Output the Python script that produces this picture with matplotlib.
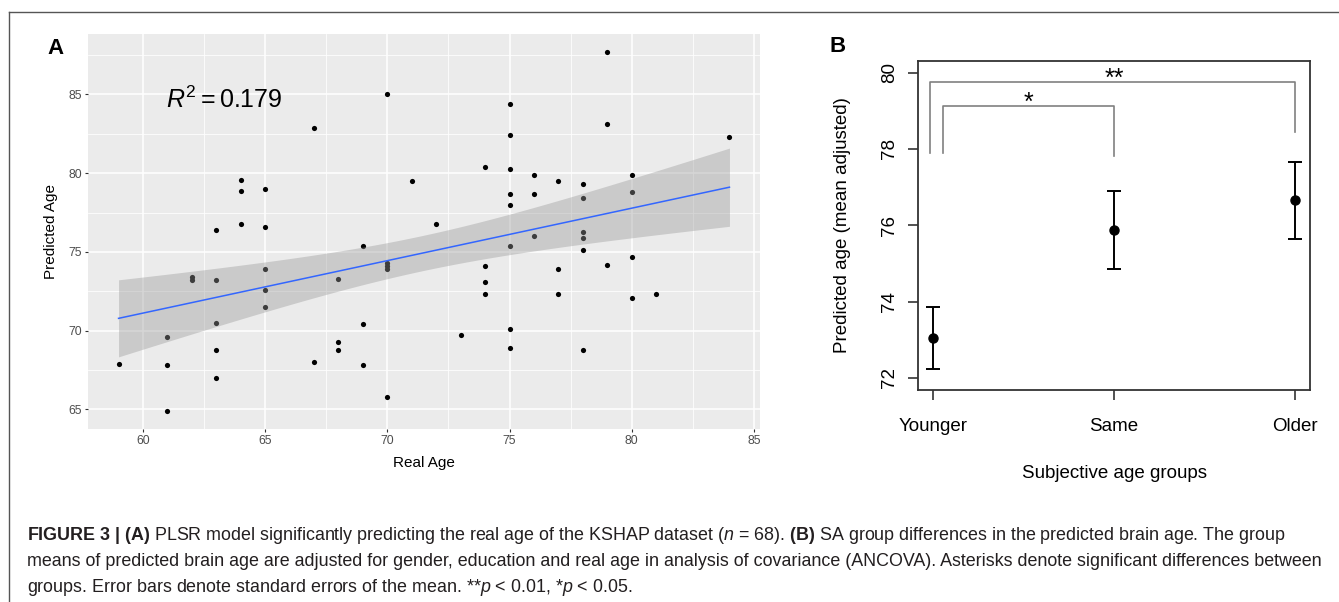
import numpy as np
import matplotlib
matplotlib.use("Agg")
import matplotlib.pyplot as plt
from matplotlib.lines import Line2D

plt.rcParams['font.family'] = ['Liberation Sans', 'DejaVu Sans']
plt.rcParams['mathtext.fontset'] = 'custom'
plt.rcParams['mathtext.rm'] = 'Liberation Sans'
plt.rcParams['mathtext.it'] = 'Liberation Sans:italic'
plt.rcParams['mathtext.bf'] = 'Liberation Sans:bold'

# panel A: real vs predicted age
real_age = [59,
            61, 61, 61,
            62, 62,
            63, 63, 63, 63, 63,
            64, 64, 64,
            65, 65, 65, 65, 65,
            67, 67,
            68, 68, 68,
            69, 69, 69,
            70, 70, 70, 70, 70,
            71, 72, 73,
            74, 74, 74, 74,
            75, 75, 75, 75, 75, 75, 75, 75,
            76, 76, 76,
            77, 77, 77,
            78, 78, 78, 78, 78, 78,
            79, 79, 79,
            80, 80, 80, 80,
            81, 84]
predicted_age = [67.9,
                 69.6, 67.8, 64.9,
                 73.4, 73.2,
                 76.4, 73.2, 70.5, 68.8, 67.0,
                 79.6, 78.9, 76.8,
                 79.0, 76.6, 73.9, 72.6, 71.5,
                 82.9, 68.0,
                 73.3, 69.3, 68.8,
                 75.4, 70.4, 67.8,
                 85.0, 74.3, 74.1, 73.9, 65.8,
                 79.5, 76.8, 69.7,
                 80.4, 74.1, 73.1, 72.3,
                 84.4, 82.4, 80.3, 78.7, 78.0, 75.4, 70.1, 68.9,
                 79.9, 78.7, 76.0,
                 79.5, 73.9, 72.3,
                 79.3, 78.4, 76.3, 75.9, 75.1, 68.8,
                 87.7, 83.1, 74.2,
                 79.9, 78.8, 74.7, 72.1,
                 72.3, 82.3]
x_ticks_a = [60, 65, 70, 75, 80, 85]
y_ticks_a = [65, 70, 75, 80, 85]

# panel B: adjusted group means and standard errors
groups = ['Younger', 'Same', 'Older']
group_means = [73.04, 75.87, 76.66]
group_se = [0.82, 1.02, 1.01]
y_ticks_b = [72, 74, 76, 78, 80]

W, H = 1339, 602
fig = plt.figure(figsize=(W / 100, H / 100), dpi=100)

# thin frame round the figure
fig.add_artist(Line2D([9 / W, 9 / W], [0, 1 - 12 / H], transform=fig.transFigure, color='#555555', lw=1.0))
fig.add_artist(Line2D([9 / W, 1], [1 - 12 / H, 1 - 12 / H], transform=fig.transFigure, color='#555555', lw=1.0))

# ---- panel A (ggplot look) ----
axA = fig.add_axes([88 / W, 1 - 429 / H, (760 - 88) / W, (429 - 34) / H])
axA.set_facecolor('#EBEBEB')
for s in axA.spines.values():
    s.set_visible(False)

xs = np.array(real_age, dtype=float)
ys = np.array(predicted_age)
n = len(xs)
b1, b0 = np.polyfit(xs, ys, 1)
xg = np.linspace(xs.min(), xs.max(), 100)
yhat = b0 + b1 * xg
resid = ys - (b0 + b1 * xs)
s_err = np.sqrt(np.sum(resid ** 2) / (n - 2))
sxx = np.sum((xs - xs.mean()) ** 2)
se_fit = s_err * np.sqrt(1 / n + (xg - xs.mean()) ** 2 / sxx)
t_crit = 1.997

axA.scatter(xs, ys, s=14, color='black', zorder=3, linewidths=0)
axA.fill_between(xg, yhat - t_crit * se_fit, yhat + t_crit * se_fit, color='#999999', alpha=0.4, lw=0, zorder=4)
axA.plot(xg, yhat, color='#3366FF', lw=1.1, zorder=5)

axA.set_xticks(x_ticks_a)
axA.set_yticks(y_ticks_a)
axA.set_xticks([62.5, 67.5, 72.5, 77.5, 82.5], minor=True)
axA.set_yticks([67.5, 72.5, 77.5, 82.5, 87.5], minor=True)
axA.set_xlim(57.75, 85.25)
axA.set_ylim(63.76, 88.84)
axA.grid(which='major', color='white', lw=1.1, zorder=0)
axA.grid(which='minor', color='white', lw=0.55, zorder=0)
axA.set_axisbelow(True)
axA.tick_params(which='major', length=2.5, width=0.8, color='#333333', labelcolor='#4D4D4D', labelsize=8.8, pad=2)
axA.tick_params(which='minor', length=0)
axA.set_xlabel('Real Age', fontsize=11, labelpad=6)
axA.set_ylabel('Predicted Age', fontsize=11, labelpad=7)
axA.text(60.95, 84.68, r'$R^2 = 0.179$', fontsize=18, ha='left', va='center')

fig.text(55 / W, 1 - 48 / H, 'A', fontsize=16, fontweight='bold', ha='center', va='center')
fig.text(838 / W, 1 - 47 / H, 'B', fontsize=16, fontweight='bold', ha='center', va='center')

# ---- panel B (base R look) ----
axB = fig.add_axes([918.5 / W, 1 - 390 / H, 391 / W, 329.5 / H])
xpos = np.arange(1, len(groups) + 1)
axB.errorbar(xpos, group_means, yerr=group_se, fmt='o', color='black', ms=6.5,
             elinewidth=1.4, capsize=5, capthick=1.4)

bracket = '#808080'
axB.plot([0.985, 0.985, 3, 3], [77.89, 79.75, 79.75, 78.44], color=bracket, lw=1.2)
axB.plot([1.055, 1.055, 2, 2], [77.89, 79.13, 79.13, 77.82], color=bracket, lw=1.2)
axB.text(2.0, 79.85, '**', fontsize=18, ha='center', va='center')
axB.text(1.53, 79.2, '*', fontsize=18, ha='center', va='center')

axB.set_xlim(0.92, 3.08)
axB.set_ylim(71.68, 80.32)
axB.set_xticks(xpos)
axB.set_xticklabels(groups)
axB.set_yticks(y_ticks_b)
for s in ['top', 'right', 'bottom', 'left']:
    axB.spines[s].set_linewidth(1.3)
    axB.spines[s].set_color('#333333')
axB.tick_params(length=7, width=1.2, color='#333333', labelsize=13.5, pad=8)
axB.tick_params(axis='x', pad=13.5)
axB.tick_params(axis='y', labelrotation=90)
for lab in axB.get_yticklabels():
    lab.set_va('center')
axB.set_xlabel('Subjective age groups', fontsize=13.5, labelpad=21.5)
axB.set_ylabel('Predicted age (mean adjusted)', fontsize=13.5, labelpad=21.5)

# ---- caption ----
cap_color = '#231f20'
cap1 = (r"$\mathbf{FIGURE\ 3\ |\ (A)}$ PLSR model significantly predicting the real age of the KSHAP dataset "
        r"($n$ = 68). $\mathbf{(B)}$ SA group differences in the predicted brain age. The group")
cap2 = ("means of predicted brain age are adjusted for gender, education and real age in analysis of "
        "covariance (ANCOVA). Asterisks denote significant differences between")
cap3 = r"groups. Error bars denote standard errors of the mean. **$p$ < 0.01, *$p$ < 0.05."
for i, line in enumerate([cap1, cap2, cap3]):
    fig.text(27 / W, 1 - (535 + 26 * i) / H, line, fontsize=12.9, color=cap_color, ha='left', va='center')

fig.savefig('out.png', dpi=100)
